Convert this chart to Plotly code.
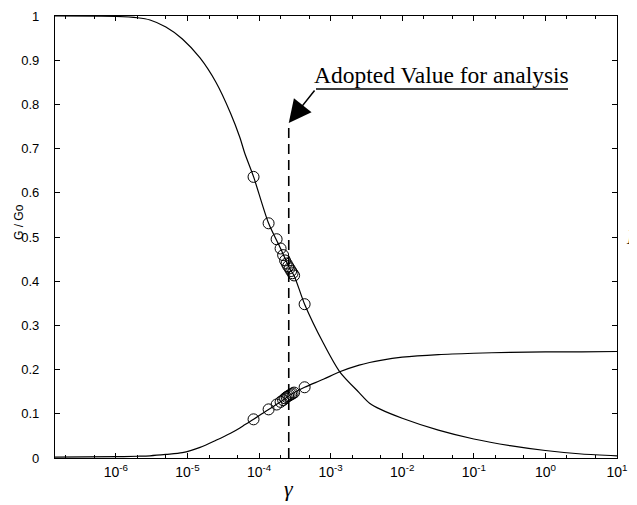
import numpy as np
import plotly.graph_objects as go

# ---- data ----
gamma_curve = [1.4e-7, 1e-6, 2e-6, 3e-6, 5e-6, 8.5e-6, 1.5e-5, 2.5e-5, 4e-5, 5.4e-5, 6.3e-5,
               8.4e-5, 1.36e-4, 2e-4, 2.67e-4, 3.1e-4, 4.33e-4, 7.9e-4, 1.34e-3,
               2.5e-3, 3.5e-3, 5e-3, 1e-2, 3.2e-2, 0.1, 0.32, 1, 3.2, 10]
G_curve = [1.0, 0.999, 0.996, 0.991, 0.975, 0.948, 0.905, 0.85, 0.78, 0.725, 0.69,
           0.636, 0.531, 0.474, 0.429, 0.412, 0.348, 0.26, 0.195,
           0.148, 0.124, 0.110, 0.090, 0.063, 0.043, 0.028, 0.017, 0.009, 0.005]
D_curve = [0.002, 0.003, 0.004, 0.005, 0.008, 0.012, 0.024, 0.04, 0.056, 0.068, 0.075,
           0.0875, 0.110, 0.127, 0.142, 0.148, 0.160, 0.178, 0.195,
           0.210, 0.216, 0.221, 0.228, 0.234, 0.237, 0.239, 0.240, 0.240, 0.241]

gamma_pts = [8.38e-5, 1.36e-4, 1.76e-4, 2.00e-4, 2.17e-4, 2.31e-4, 2.43e-4,
             2.55e-4, 2.67e-4, 2.81e-4, 2.94e-4, 3.09e-4, 4.33e-4]
G_pts = [0.636, 0.531, 0.495, 0.474, 0.459, 0.447, 0.440, 0.434, 0.429,
         0.423, 0.418, 0.413, 0.348]
D_pts = [0.0875, 0.110, 0.121, 0.127, 0.131, 0.135, 0.138, 0.140, 0.142,
         0.144, 0.146, 0.148, 0.160]

x_tick_vals = [1e-6, 1e-5, 1e-4, 1e-3, 1e-2, 1e-1, 1e0, 1e1]
x_tick_text = ["10<sup>-6</sup>", "10<sup>-5</sup>", "10<sup>-4</sup>", "10<sup>-3</sup>",
               "10<sup>-2</sup>", "10<sup>-1</sup>", "10<sup>0</sup>", "10<sup>1</sup>"]
y_tick_vals = [0, 0.1, 0.2, 0.3, 0.4, 0.5, 0.6, 0.7, 0.8, 0.9, 1]
y_tick_text = ["0", "0.1", "0.2", "0.3", "0.4", "0.5", "0.6", "0.7", "0.8", "0.9", "1"]

gamma_adopted = 2.6e-4
adopted_top = 0.758
annot_text = "Adopted Value for analysis"
x_log_range = [-6.85, 1]

fig = go.Figure()
fig.add_trace(go.Scatter(x=gamma_curve, y=G_curve, mode="lines",
                         line=dict(color="black", width=1.2, shape="spline", smoothing=0.8),
                         showlegend=False))
fig.add_trace(go.Scatter(x=gamma_curve, y=D_curve, mode="lines",
                         line=dict(color="black", width=1.2, shape="spline", smoothing=0.8),
                         showlegend=False))
for ys in (G_pts, D_pts):
    fig.add_trace(go.Scatter(x=gamma_pts, y=ys, mode="markers",
                             marker=dict(symbol="circle-open", size=11, color="black",
                                         line=dict(width=1, color="black")),
                             showlegend=False))
fig.add_trace(go.Scatter(x=[gamma_adopted, gamma_adopted], y=[0, adopted_top], mode="lines",
                         line=dict(color="black", width=1.6, dash="10px,6px"),
                         showlegend=False))
# invisible trace to carry the top tick axis
fig.add_trace(go.Scatter(x=[gamma_adopted], y=[0.5], xaxis="x2", mode="markers",
                         marker=dict(opacity=0), hoverinfo="skip", showlegend=False))

# annotation text, underline and arrow
fig.add_annotation(text=annot_text, xref="paper", yref="paper", x=0.688, y=0.8326,
                   xanchor="center", yanchor="bottom", showarrow=False,
                   font=dict(family="Liberation Serif", size=23.5, color="black"))
fig.add_shape(type="line", xref="paper", yref="paper", x0=0.4644, x1=0.9128,
              y0=0.835, y1=0.835, line=dict(color="black", width=1.5))
fig.add_annotation(x=np.log10(gamma_adopted), y=adopted_top, xref="x", yref="y",
                   text="", showarrow=True, arrowhead=2, arrowsize=3, arrowwidth=1.5,
                   arrowcolor="black", ax=27, ay=-34, standoff=0)

# axis titles as annotations
fig.add_annotation(text="<i>γ</i>", xref="paper", yref="paper", x=0.416, y=-0.068,
                   xanchor="center", yanchor="middle", showarrow=False,
                   font=dict(family="Liberation Serif", size=22, color="black"))
fig.add_annotation(text="G / Go", xref="paper", yref="paper", x=-0.064, y=0.534,
                   textangle=-90, xanchor="center", yanchor="middle", showarrow=False,
                   font=dict(family="Liberation Sans", size=12, color="black"))
fig.add_annotation(text="<i>K</i>", xref="paper", yref="paper", x=1.012, y=0.5,
                   xanchor="left", yanchor="middle", showarrow=False,
                   font=dict(family="Liberation Serif", size=20, color="black"))

# the page body adds an 8 px offset; margins compensate so the plot box sits at 55..617 x 16..458
fig.update_layout(
    width=637, height=505, autosize=False,
    margin=dict(l=47, r=28, t=8, b=55, autoexpand=False),
    plot_bgcolor="white", paper_bgcolor="white",
    xaxis=dict(type="log", range=x_log_range, tickmode="array",
               tickvals=x_tick_vals, ticktext=x_tick_text,
               automargin=False,
               showline=True, linecolor="black", linewidth=1.2, mirror=True,
               ticks="inside", ticklen=5, tickcolor="black", showgrid=False, zeroline=False,
               tickfont=dict(family="Liberation Sans", size=14, color="black"),
               ticklabelstandoff=1,
               minor=dict(ticks="inside", ticklen=3, tickcolor="black", showgrid=False)),
    xaxis2=dict(type="log", range=x_log_range, tickmode="array", tickvals=x_tick_vals,
                overlaying="x", side="top",
                automargin=False, showticklabels=False, showline=False,
                ticks="inside", ticklen=5, tickcolor="black", showgrid=False, zeroline=False,
                minor=dict(ticks="inside", ticklen=3, tickcolor="black", showgrid=False)),
    yaxis=dict(range=[0, 1], tickmode="array", tickvals=y_tick_vals, ticktext=y_tick_text,
               showline=True, linecolor="black", linewidth=1.2,
               automargin=False,
               mirror="ticks", ticks="inside", ticklen=5, tickcolor="black",
               showgrid=False, zeroline=False, ticklabelstandoff=12,
               tickfont=dict(family="Liberation Sans", size=13, color="black")),
)

fig.write_html("out.html")
